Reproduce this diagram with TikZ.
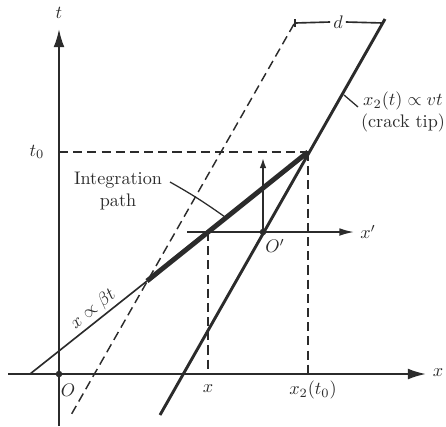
\documentclass[tikz,border=0pt]{standalone}
\usetikzlibrary{arrows.meta}
\definecolor{frInk}{HTML}{2B2B2B}
\tikzset{
  fr axis/.style={draw=frInk, line width=1.1pt, -{Latex[length=10pt,width=6pt]}},
  fr small axis/.style={draw=frInk, line width=0.9pt, -{Latex[length=8pt,width=4.2pt]}},
  fr short arrow/.style={draw=frInk, line width=0.9pt, -{Latex[length=5.5pt,width=3.6pt]}},
  fr thin/.style={draw=frInk, line width=0.9pt},
  fr crack/.style={draw=frInk, line width=1.6pt},
  fr path/.style={draw=frInk, line width=2.7pt},
  fr guide/.style={draw=frInk, dash pattern=on 5pt off 2.8pt, line width=0.8pt},
  fr dot/.style={circle, fill=frInk, inner sep=0pt, minimum size=3.6pt},
  fr label/.style={text=frInk, inner sep=1.5pt},
}

\begin{document}
\begin{tikzpicture}[x=0.55pt, y=-0.55pt]
  \useasboundingbox (0,0) rectangle (446,426);

  % points (picture units)
  \coordinate (tBot) at (59,426);
  \coordinate (tTop) at (59,29);
  \coordinate (xLeft) at (8,374);
  \coordinate (xRight) at (426,374);
  \coordinate (O) at (59,374);
  \coordinate (tZero) at (59,152);
  \coordinate (P) at (308,152);
  \coordinate (Pfoot) at (308,374);
  \coordinate (crackTop) at (385,19);
  \coordinate (crackBot) at (160,415);
  \coordinate (dashTop) at (294,24);
  \coordinate (dashBot) at (71,415);
  \coordinate (betaStart) at (30,374);
  \coordinate (Q) at (147,281);
  \coordinate (R) at (208,232);
  \coordinate (Rfoot) at (208,374);
  \coordinate (xpLeft) at (187,232);
  \coordinate (xpRight) at (354,232);
  \coordinate (Op) at (263,232);
  \coordinate (OpUp) at (263,158);
  \coordinate (dL) at (295,23);
  \coordinate (dR) at (383,23);
  \coordinate (crackMark) at (344,95);
  \coordinate (crackLead) at (358,107);
  \coordinate (pathMark) at (225,217);

  % axes
  \draw[fr axis] (tBot) -- (tTop);
  \draw[fr axis] (xLeft) -- (xRight);
  \node[fr dot] (Odot) at (O) {};

  % guides
  \draw[fr guide] (tZero) -- (P);
  \draw[fr guide] (P) -- (Pfoot);
  \draw[fr guide] (R) -- (Rfoot);
  \draw[fr guide] (dashTop) -- (dashBot);

  % crack tip and integration path
  \draw[fr crack] (crackTop) -- (crackBot);
  \draw[fr thin] (betaStart) -- (Q);
  \draw[fr path] (Q) -- (P);

  % moving frame
  \draw[fr small axis] (xpLeft) -- (xpRight);
  \draw[fr short arrow] (Op) -- (OpUp);
  \node[fr dot] (Opdot) at (Op) {};

  % d bracket
  \node[fr label] (dLab) at (338,22) {$d$};
  \draw[fr thin] (dL) -- (dLab.west);
  \draw[fr thin] (dLab.east) -- (dR);
  \draw[fr thin] (295,19) -- (295,27);

  % labels
  \node[fr label] (tLab) at (59,13) {$t$};
  \node[fr label] (tZeroLab) at (37,152) {$t_0$};
  \node[fr label] (xLab) at (438,373) {$x$};
  \node[fr label] (OLab) at (68,390) {$O$};
  \node[fr label] (xFootLab) at (208,389) {$x$};
  \node[fr label] (xTwoLab) at (313,390) {$x_2(t_0)$};
  \node[fr label] (OpLab) at (275,246) {$O'$};
  \node[fr label] (xpLab) at (368,232) {$x'$};
  \path (betaStart) -- (Q) node[fr label, pos=0.6, above, sloped] (betaLab) {$x \propto \beta t$};
  \node[fr label, align=center] (crackLab) at (403,112) {$x_2(t) \propto vt$\\(crack tip)};
  \draw[fr thin, line width=0.7pt] (crackMark) -- (crackLead);
  \node[fr label, align=center] (pathLab) at (118,191) {Integration\\path};
  \draw[fr thin, line width=0.7pt] (170,182) to[bend left=3] (pathMark);
\end{tikzpicture}
\end{document}
